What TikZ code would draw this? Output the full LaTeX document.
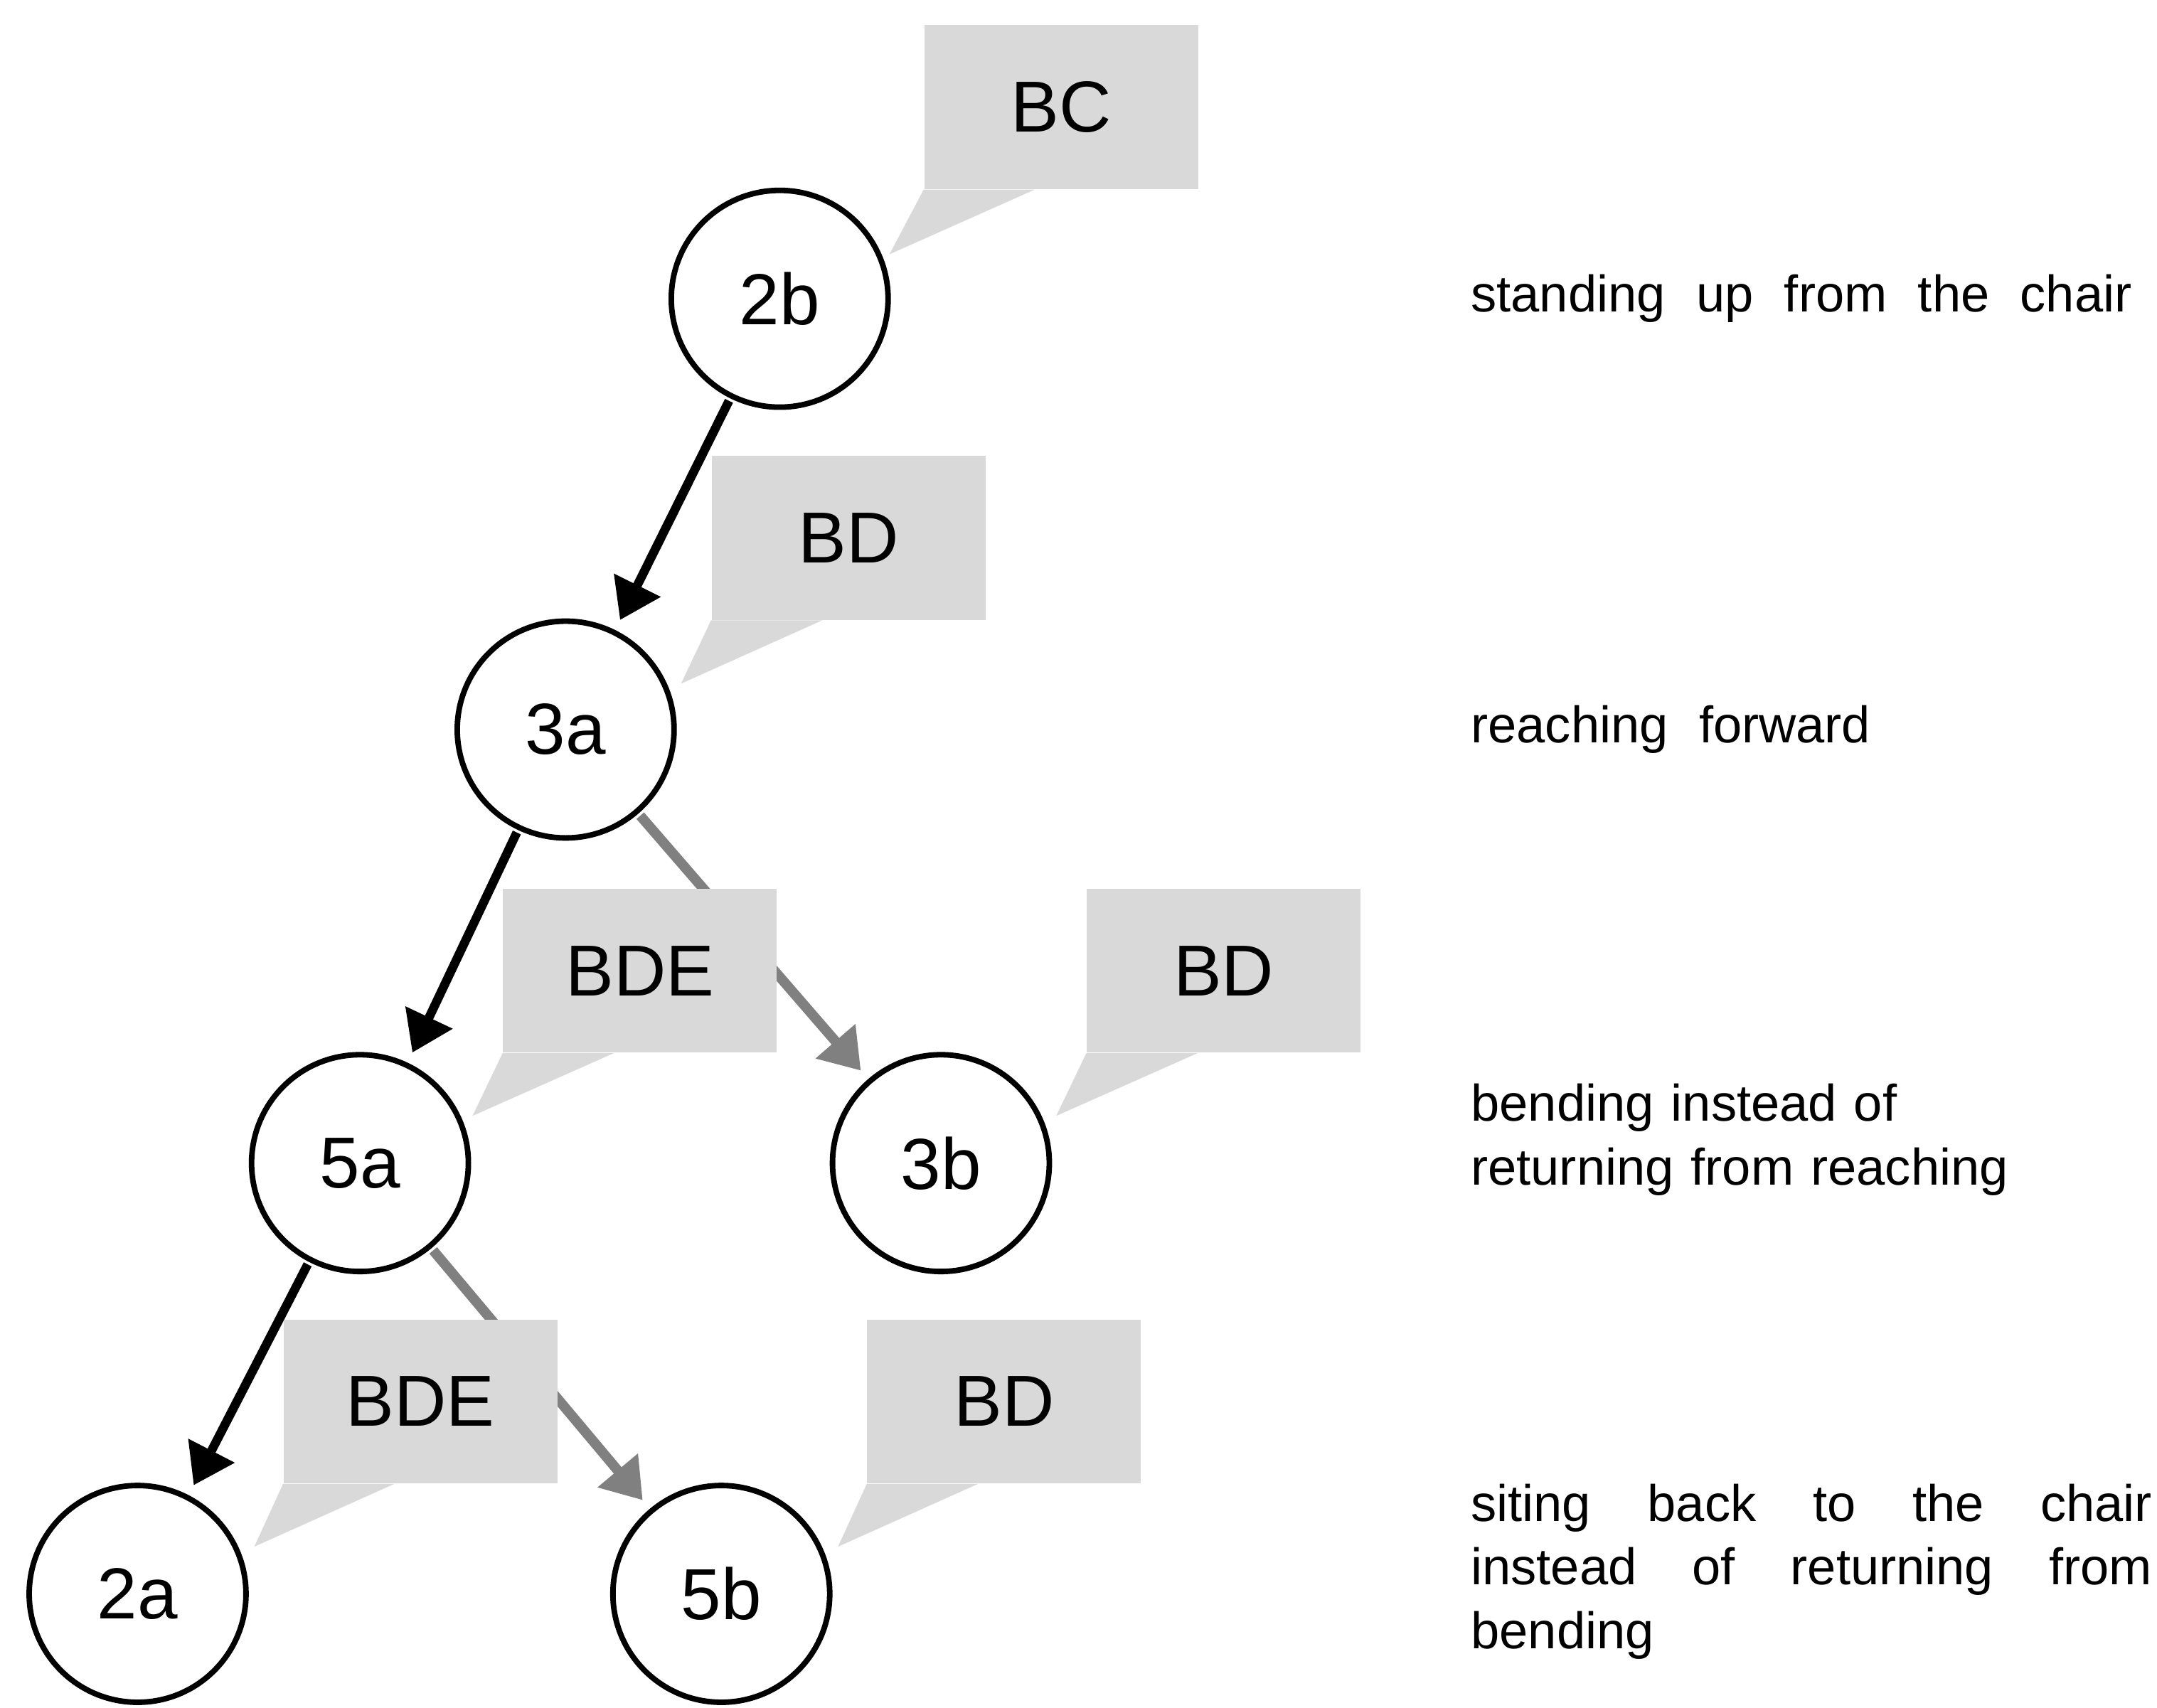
\documentclass[tikz,border=0pt]{standalone}
\usepackage{fontspec}
\setmainfont{Liberation Sans}
\usetikzlibrary{arrows.meta}
\newcommand\mywsp{\spaceskip=0.6em plus 0.5em\relax}
\begin{document}
\begin{tikzpicture}[x=0.5pt,y=-0.5pt,
  st/.style={circle,draw,line width=2pt,minimum size=78pt,inner sep=0pt,font=\fontsize{26}{28}\selectfont},
  co/.style={fill=black!15,minimum width=98.5pt,minimum height=59pt,inner sep=0pt,font=\fontsize{26}{28}\selectfont},
  ba/.style={line width=3.2pt,-{Triangle[length=14pt,width=18pt]},shorten >=4pt,shorten <=1pt},
  ga/.style={ba,draw=black!50,line width=3.6pt},
  tl/.style={fill=black!15},
  lab/.style={anchor=west,inner sep=0pt,font=\fontsize{18.5}{23}\selectfont\mywsp}]
\useasboundingbox (0,0) rectangle (1552,1229);
\node[st] (2b) at (561,215) {2b};
\node[st] (3a) at (407,525) {3a};
\node[st] (5a) at (259,837) {5a};
\node[st] (3b) at (677,837) {3b};
\node[st] (2a) at (99,1147) {2a};
\node[st] (5b) at (519,1147) {5b};
\draw[ba] (2b) -- (3a);
\draw[ba] (3a) -- (5a);
\draw[ba] (5a) -- (2a);
\draw[ga] (3a) -- (3b);
\draw[ga] (5a) -- (5b);
% callouts
\node[co] (c1) at (763.5,77) {BC};
\node[co] (c2) at (610.5,387) {BD};
\node[co] (c3) at (460.5,698.5) {BDE};
\node[co] (c4) at (880.5,698.5) {BD};
\node[co] (c5) at (302.5,1008.5) {BDE};
\node[co] (c6) at (722.5,1008.5) {BD};
\coordinate (t1) at (640,183);
\coordinate (t2) at (490,492);
\coordinate (t3) at (340,803);
\coordinate (t4) at (760,803);
\coordinate (t5) at (183,1113);
\coordinate (t6) at (603,1113);
\foreach \c/\t in {c1/t1,c2/t2,c3/t3,c4/t4,c5/t5,c6/t6}
  \fill[tl] (\c.south west) -- ([xshift=40pt]\c.south west) -- (\t) -- cycle;
% labels
\node[lab] (l1) at (1058,215) {standing up from the chair};
\node[lab] (l2) at (1058,525) {reaching forward};
\node[lab,text width=245pt,align=left] (l3) at (1058,820) {bending instead of\\returning from reaching};
\node[lab,text width=245pt,align=left] (l4) at (1058,1131) {siting\hfill back\hfill to\hfill the\hfill chair\\instead\hfill of\hfill returning\hfill from\\bending};
\end{tikzpicture}
\end{document}
